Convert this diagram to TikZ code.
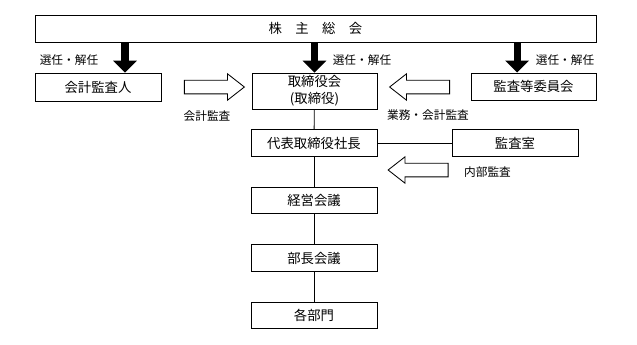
\documentclass[tikz,border=0pt]{standalone}
\usepackage{fontspec}
\setmainfont{Noto Sans CJK JP}
\usetikzlibrary{arrows.meta,shapes.arrows,calc}

\begin{document}
\begin{tikzpicture}[
    x=0.025cm, y=-0.025cm,
    box/.style={draw, rectangle, line width=0.6pt, minimum width=3.15cm, minimum height=0.66cm, inner sep=1pt, align=center, font=\fontsize{9.5pt}{12pt}\selectfont},
    lbl/.style={font=\fontsize{8.3pt}{10pt}\selectfont, inner sep=0pt},
    heavy/.style={line width=5pt, -{Triangle[width=16.5pt, length=8.5pt]}},
    hollow/.style={draw, single arrow, line width=0.6pt, minimum height=1.5cm, text height=0pt, text depth=0pt, inner xsep=0pt, inner ysep=0.16cm, single arrow head extend=0.16cm, single arrow tip angle=76}
]
\useasboundingbox (0,0) rectangle (637,344);

% 株主総会
\node[box, minimum width=14.025cm, minimum height=0.675cm] (soukai) at (315.5,28.5) {株　主　総　会};

% 2段目
\node[box, minimum height=0.7cm] (kansanin) at (98,87) {会計監査人};
\node[box, minimum width=3.125cm, minimum height=0.9cm] (torishimari) at (314.5,91) {取締役会\\(取締役)};
\node[box, minimum width=3.125cm, minimum height=0.675cm] (iinkai) at (533.5,86.5) {監査等委員会};

% 業務執行
\node[box] (daihyo) at (314,143) {代表取締役社長};
\node[box] (kansashitsu) at (515,143) {監査室};
\node[box] (keiei) at (314,200.5) {経営会議};
\node[box] (bucho) at (314,258) {部長会議};
\node[box] (kakubumon) at (314,315.5) {各部門};

% 選任・解任
\draw[heavy] ([xshift=0.675cm]kansanin.north |- soukai.south) -- ([xshift=0.675cm]kansanin.north);
\draw[heavy] (torishimari.north |- soukai.south) -- (torishimari.north);
\draw[heavy] ([xshift=-0.41cm]iinkai.north |- soukai.south) -- ([xshift=-0.41cm]iinkai.north);
\node[lbl] (sennin1) at (69,60) {選任・解任};
\node[lbl] (sennin2) at (362,60) {選任・解任};
\node[lbl] (sennin3) at (565,60) {選任・解任};

% 監査
\node[hollow] (kaikei) at (210,87) {};
\node[hollow, shape border rotate=180] (gyomu) at (424,87) {};
\node[hollow, shape border rotate=180] (naibu) at (422.5,170) {};
\node[lbl] (kaikeilbl) at (207,116) {会計監査};
\node[lbl] (gyomulbl) at (428,115) {業務・会計監査};
\node[lbl] (naibulbl) at (487.5,172) {内部監査};

% 接続線
\draw[line width=0.6pt] (torishimari) -- (daihyo);
\draw[line width=0.6pt] (daihyo) -- (kansashitsu);
\draw[line width=0.6pt] (daihyo) -- (keiei);
\draw[line width=0.6pt] (keiei) -- (bucho);
\draw[line width=0.6pt] (bucho) -- (kakubumon);

\end{tikzpicture}
\end{document}
